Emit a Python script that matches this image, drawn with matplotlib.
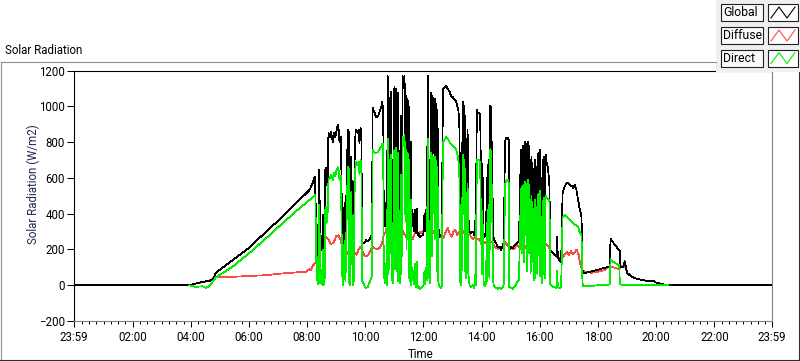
import matplotlib
matplotlib.use('Agg')
import matplotlib.pyplot as plt
from matplotlib.patches import Rectangle
from matplotlib.lines import Line2D

# values: (minute of day, W/m2)
GLOBAL = [
    (-1, 0), (237, 0), (250, 9), (264, 19), (278, 24), (285, 32), (288, 43), (290, 66), (326, 140),
    (361, 211), (395, 299), (429, 383), (464, 477), (485, 533), (491, 570), (496, 608),
    (498, 393), (500, 196), (501, 337), (503, 168), (505, 645), (507, 168), (509, 236), (511, 196),
    (512, 393), (513, 168), (516, 196), (517, 645), (519, 656), (520, 561), (522, 572), (524, 853),
    (527, 830), (529, 858), (533, 802), (535, 853), (538, 830), (540, 858), (542, 886), (543, 898),
    (545, 870), (546, 813), (548, 802), (550, 830), (551, 533), (553, 196), (555, 185), (557, 460),
    (559, 236), (562, 645), (564, 870), (566, 853), (567, 213), (569, 196), (571, 718), (574, 180),
    (576, 236), (578, 718), (580, 870), (582, 858), (584, 853), (586, 870), (588, 797), (590, 881),
    (592, 858), (593, 236), (596, 236), (599, 241), (602, 252), (605, 247), (608, 252), (612, 275),
    (614, 292), (615, 993), (619, 965), (622, 943), (626, 943), (629, 965), (633, 999), (635, 1027),
    (636, 993), (637, 1000), (638, 380), (640, 460), (641, 330), (643, 420), (645, 300), (646, 1169),
    (647, 1160), (648, 400), (650, 1050), (651, 520), (653, 1080), (654, 400), (656, 700), (657, 360),
    (659, 900), (660, 1110), (661, 450), (663, 1100), (664, 1060), (666, 450), (667, 1075), (668, 380),
    (670, 700), (671, 350), (673, 950), (674, 400), (676, 600), (677, 1169), (678, 1165), (680, 1100),
    (681, 1169), (682, 700), (684, 1060), (685, 500), (687, 1040), (688, 1020), (690, 380), (691, 1000),
    (692, 350), (694, 800), (695, 300), (697, 420), (699, 360), (700, 300), (702, 420), (703, 320),
    (705, 290), (707, 430), (708, 280), (710, 290), (712, 271), (715, 275), (718, 280), (720, 290),
    (722, 400), (723, 300), (725, 420), (727, 350), (729, 1169), (730, 1150), (731, 380), (733, 700),
    (734, 330), (736, 1077), (737, 1060), (738, 500), (740, 1050), (742, 1020), (743, 600), (744, 1040),
    (746, 1000), (747, 420), (749, 980), (750, 350), (752, 290), (753, 271), (756, 275), (758, 290),
    (760, 1094), (763, 1105), (767, 1113), (770, 1100), (774, 1080), (777, 1060), (781, 1050),
    (784, 1040), (787, 1030), (790, 1000), (792, 980), (794, 900), (796, 327), (797, 300), (799, 420),
    (801, 1028), (803, 1000), (804, 700), (805, 950), (806, 400), (807, 820), (808, 360), (810, 500),
    (811, 870), (812, 400), (815, 300), (818, 290), (822, 300), (825, 280), (826, 360), (828, 300),
    (830, 980), (832, 963), (835, 963), (837, 950), (839, 500), (840, 680), (841, 330), (843, 600),
    (844, 290), (846, 271), (849, 300), (851, 600), (852, 290), (854, 700), (856, 320), (858, 1004),
    (860, 990), (861, 600), (862, 800), (863, 300), (865, 260), (868, 240), (870, 234), (873, 215),
    (877, 215), (880, 196), (884, 225), (886, 240), (888, 800), (890, 823), (894, 823), (896, 810),
    (897, 196), (901, 215), (904, 205), (907, 220), (911, 230), (914, 240), (917, 250), (919, 500),
    (921, 757), (923, 760), (924, 400), (926, 780), (927, 350), (929, 800), (930, 500), (932, 790),
    (933, 300), (935, 804), (937, 780), (938, 400), (940, 700), (941, 300), (943, 720), (944, 350),
    (946, 650), (948, 260), (950, 700), (951, 270), (953, 660), (955, 300), (957, 739), (958, 500),
    (960, 757), (961, 280), (963, 600), (964, 240), (966, 700), (967, 300), (969, 720), (970, 320),
    (972, 729), (973, 701), (977, 650), (980, 551), (981, 196), (987, 180), (994, 160), (996, 271),
    (997, 160), (1001, 135), (1004, 131), (1007, 514), (1011, 551), (1015, 570), (1018, 575),
    (1022, 560), (1026, 555), (1029, 545), (1032, 560), (1035, 540), (1039, 477), (1042, 430),
    (1046, 383), (1048, 84), (1050, 65), (1056, 70), (1063, 75), (1070, 80), (1077, 84), (1084, 90),
    (1091, 95), (1098, 100), (1104, 105), (1106, 262), (1108, 250), (1111, 240), (1115, 225),
    (1118, 215), (1122, 200), (1125, 190), (1126, 100), (1132, 100), (1135, 135), (1137, 110),
    (1140, 70), (1146, 55), (1155, 40), (1170, 30), (1185, 22), (1195, 24), (1200, 15), (1210, 8),
    (1224, 0), (1439, 0),
]

# diffuse and direct only cover the daylight part of the record
DIFFUSE = [
    (237, 0), (250, 9), (264, 17), (278, 24), (288, 43), (326, 47), (361, 52), (395, 56),
    (429, 66), (464, 73), (478, 75), (485, 90), (488, 84), (491, 107), (496, 122),
    (500, 140), (503, 165), (507, 200), (511, 240), (515, 252), (519, 270), (524, 255), (529, 230),
    (535, 240), (540, 275), (545, 280), (548, 260), (551, 230), (556, 215), (560, 190), (565, 175),
    (570, 200), (574, 210), (578, 180), (582, 170), (586, 200), (590, 215), (594, 190), (598, 165),
    (603, 160), (607, 175), (612, 205), (616, 215), (620, 205), (625, 200), (630, 210), (634, 230),
    (638, 280), (642, 300), (645, 330), (648, 310), (651, 340), (655, 370), (659, 380), (662, 350),
    (666, 320), (670, 300), (674, 330), (678, 300), (682, 280), (686, 260), (690, 300), (694, 280),
    (698, 260), (702, 290), (706, 310), (710, 280), (714, 300), (718, 290), (722, 320), (726, 360),
    (730, 380), (734, 340), (738, 310), (742, 290), (746, 270), (750, 300), (754, 280), (758, 260),
    (762, 270), (766, 300), (770, 320), (774, 290), (778, 270), (782, 300), (786, 310), (790, 280),
    (794, 300), (798, 320), (802, 300), (806, 280), (810, 300), (814, 290), (818, 270), (822, 260),
    (826, 270), (830, 255), (834, 260), (838, 240), (842, 250), (846, 235), (850, 245), (854, 230),
    (858, 245), (862, 240), (866, 220), (870, 210), (874, 200), (878, 215), (882, 205), (886, 220),
    (890, 240), (894, 220), (898, 205), (902, 215), (906, 200), (910, 215), (914, 225), (918, 210),
    (922, 200), (926, 210), (930, 220), (934, 200), (938, 215), (942, 205), (946, 220), (950, 210),
    (954, 220), (958, 230), (962, 215), (966, 225), (970, 240), (974, 230), (978, 215), (981, 200),
    (985, 185), (990, 170), (995, 160), (1000, 150), (1004, 140), (1008, 160), (1012, 175),
    (1016, 185), (1020, 170), (1024, 190), (1028, 175), (1032, 185), (1036, 200), (1040, 170),
    (1044, 110), (1048, 84), (1055, 75), (1065, 70), (1075, 72), (1085, 80), (1095, 85), (1100, 100),
    (1104, 100), (1108, 105), (1112, 100), (1118, 95), (1124, 90), (1128, 105), (1132, 110),
    (1135, 112), (1140, 70), (1146, 55), (1155, 40), (1170, 30), (1185, 22), (1195, 22), (1200, 15),
    (1210, 8), (1224, 0),
]

DIRECT = [
    (237, 0), (250, -9), (264, -6), (271, -15), (278, -6), (285, 19), (291, 43), (326, 103),
    (361, 181), (395, 262), (429, 346), (464, 430), (485, 477), (496, 505),
    (497, 500), (498, 250), (500, 30), (501, 150), (503, 5), (505, 450), (507, 10), (509, 40),
    (511, 5), (512, 200), (513, 0), (516, 20), (517, 420), (519, 440), (520, 350), (522, 380),
    (524, 590), (527, 600), (529, 620), (533, 590), (535, 630), (538, 610), (540, 640), (542, 650),
    (543, 660), (545, 640), (546, 600), (548, 590), (550, 610), (551, 300), (553, 5), (555, 0),
    (557, 250), (559, 20), (562, 450), (564, 664), (566, 650), (567, 10), (569, 0), (571, 520),
    (574, 0), (576, 20), (578, 540), (580, 690), (582, 680), (584, 670), (586, 690), (588, 620),
    (590, 701), (592, 680), (593, 30), (596, 10), (599, -10), (602, -15), (605, -10), (608, 10),
    (612, 40), (614, 60), (615, 757), (619, 740), (622, 740), (626, 745), (629, 760), (633, 776),
    (635, 790), (636, 760), (637, 790), (638, 40), (640, 120), (641, 10), (643, 90), (645, 0),
    (646, 820), (647, 800), (648, 60), (650, 700), (651, 180), (653, 730), (654, 30), (656, 350),
    (657, 10), (659, 560), (660, 760), (661, 90), (663, 770), (664, 720), (666, 80), (667, 740),
    (668, 20), (670, 400), (671, 10), (673, 620), (674, 60), (676, 280), (677, 830), (678, 830),
    (680, 780), (681, 840), (682, 400), (684, 760), (685, 200), (687, 740), (688, 720), (690, 40),
    (691, 700), (692, 20), (694, 480), (695, 0), (697, 100), (699, 40), (700, 5), (702, 120),
    (703, 10), (705, -10), (707, 130), (708, -15), (710, -10), (712, -20), (715, -15), (718, -10),
    (720, 0), (722, 80), (723, 5), (725, 100), (727, 30), (729, 820), (730, 800), (731, 40),
    (733, 360), (734, 10), (736, 740), (737, 720), (738, 160), (740, 720), (742, 700), (743, 260),
    (744, 720), (746, 680), (747, 80), (749, 660), (750, 30), (752, 0), (753, -10), (756, -15),
    (758, 0), (760, 800), (763, 810), (767, 830), (770, 820), (774, 800), (777, 790), (781, 780),
    (784, 770), (787, 760), (790, 730), (792, 700), (794, 620), (796, 20), (797, 0), (799, 100),
    (801, 730), (803, 700), (804, 400), (805, 650), (806, 80), (807, 520), (808, 40), (810, 200),
    (811, 570), (812, 80), (815, 0), (818, -10), (822, 0), (825, -15), (826, 60), (828, 0),
    (830, 700), (832, 700), (835, 700), (837, 680), (839, 230), (840, 420), (841, 60), (843, 340),
    (844, 20), (846, -5), (849, 10), (851, 350), (852, 20), (854, 450), (856, 40), (858, 760),
    (860, 740), (861, 350), (862, 560), (863, 40), (865, 0), (868, -10), (870, -15), (873, -20),
    (877, -15), (880, -20), (884, -10), (886, 10), (888, 560), (890, 580), (894, 590), (896, 570),
    (897, -10), (901, -15), (904, -20), (907, -10), (911, 5), (914, 20), (917, 30), (919, 280),
    (921, 530), (923, 550), (924, 180), (926, 560), (927, 130), (929, 580), (930, 280), (932, 570),
    (933, 80), (935, 590), (937, 560), (938, 180), (940, 480), (941, 70), (943, 500), (944, 130),
    (946, 430), (948, 30), (950, 480), (951, 40), (953, 440), (955, 60), (957, 510), (958, 270),
    (960, 527), (961, 50), (963, 380), (964, 10), (966, 470), (967, 60), (969, 490), (970, 40),
    (972, 500), (973, 490), (977, 480), (980, 470), (981, 5), (987, -10), (994, -15), (996, 80),
    (997, -10), (1001, -15), (1004, -10), (1007, 380), (1011, 393), (1015, 385), (1018, 375),
    (1022, 365), (1026, 355), (1029, 345), (1032, 340), (1035, 335), (1039, 327), (1042, 300),
    (1046, 280), (1048, 10), (1050, -5), (1060, -5), (1070, -3), (1080, 0), (1098, 0), (1104, 5),
    (1106, 145), (1108, 140), (1112, 130), (1118, 120), (1124, 110), (1125, 6), (1130, 2),
    (1160, 3), (1190, 2), (1224, 0),
]

SERIES = ['Global', 'Diffuse', 'Direct']
COLORS = ['#000000', '#ff4848', '#00ee00']

X_TICKS = [-1, 120, 240, 360, 480, 600, 720, 840, 960, 1080, 1200, 1320, 1439]
X_LABELS = ['23:59', '02:00', '04:00', '06:00', '08:00', '10:00', '12:00',
            '14:00', '16:00', '18:00', '20:00', '22:00', '23:59']
Y_TICKS = [-200, 0, 200, 400, 600, 800, 1000, 1200]

W, H = 800, 361
plt.rcParams['font.family'] = ['Roboto', 'DejaVu Sans']
FS = 8.3


def fx(px):
    return px / W


def fy(py):
    return 1 - py / H


fig = plt.figure(figsize=(W / 100, H / 100), dpi=100)
fig.patch.set_facecolor('white')

# frame around the graph
fig.add_artist(Line2D([fx(0.5), fx(716)], [fy(61.5), fy(61.5)], color='#909090', lw=0.8))
fig.add_artist(Line2D([fx(0.5), fx(0.5)], [fy(61.5), fy(360)], color='#909090', lw=0.8))
fig.add_artist(Line2D([fx(0), fx(799)], [fy(360), fy(360)], color='#303030', lw=0.8))
fig.add_artist(Line2D([fx(798.5), fx(798.5)], [fy(72), fy(360)], color='#303030', lw=0.8))

fig.text(fx(5), fy(51), 'Solar Radiation', ha='left', va='center', fontsize=FS)

ax = fig.add_axes([fx(74), fy(321), (772 - 74) / W, (321 - 70.7) / H])
ax.set_xlim(-1, 1439)
ax.set_ylim(-200, 1200)

# diffuse underneath, global over it, direct on top
for data, color, z in zip([GLOBAL, DIFFUSE, DIRECT], COLORS, [2, 1, 3]):
    t = [p[0] for p in data]
    w = [p[1] for p in data]
    ax.plot(t, w, color=color, lw=0.55, antialiased=False, zorder=z)

ax.set_xticks(X_TICKS)
ax.set_xticklabels(X_LABELS)
ax.set_xticks(list(range(15, 1439, 15)), minor=True)
ax.set_yticks(Y_TICKS)
ax.tick_params(axis='x', which='major', length=4, width=0.72, pad=3)
ax.tick_params(axis='x', which='minor', length=2.5, width=0.72)
ax.tick_params(axis='y', which='major', length=5, width=0.72, pad=1.5)
ax.tick_params(labelsize=FS)
for s in ['top', 'left']:
    ax.spines[s].set_color('black')
    ax.spines[s].set_linewidth(0.8)
for s in ['right', 'bottom']:
    ax.spines[s].set_color('#808080')
    ax.spines[s].set_linewidth(0.8)

fig.text(fx(33), fy(184), 'Solar Radiation (W/m2)', rotation=90, ha='center', va='center',
         fontsize=FS, color='#1c2850')
fig.text(fx(421), fy(354), 'Time', ha='center', va='center', fontsize=FS)

# legend panel
fig.add_artist(Rectangle((fx(716), fy(72)), 84 / W, 72 / H, transform=fig.transFigure,
                         facecolor='#f0f0f0', edgecolor='none'))
tops = [4, 27, 49.5]
for name, color, top in zip(SERIES, COLORS, tops):
    fig.add_artist(Rectangle((fx(721), fy(top + 17)), 42 / W, 17 / H, transform=fig.transFigure,
                             facecolor='#fafafa', edgecolor='#202020', lw=0.8))
    fig.text(fx(723), fy(top + 8.5), name, ha='left', va='center', fontsize=FS + 0.5)
    fig.add_artist(Rectangle((fx(768), fy(top + 17)), 29.5 / W, 17 / H, transform=fig.transFigure,
                             facecolor='white', edgecolor='#202020', lw=0.8))
    zx = [771, 779, 787, 795]
    zy = [top + 14, top + 3, top + 14, top + 3]
    fig.add_artist(Line2D([fx(v) for v in zx], [fy(v) for v in zy], color=color, lw=0.8))

fig.savefig('out.png', dpi=100, facecolor='white')
